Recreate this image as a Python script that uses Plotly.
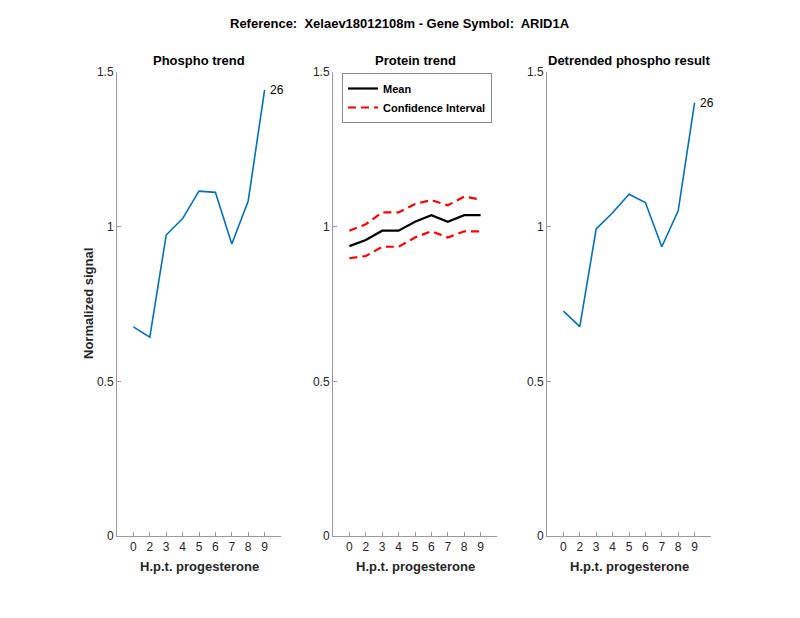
import plotly.graph_objects as go

x_pos = [1, 2, 3, 4, 5, 6, 7, 8, 9]
tick_labels = ["0", "2", "3", "4", "5", "6", "7", "8", "9"]
phospho = [0.676, 0.643, 0.973, 1.026, 1.115, 1.111, 0.944, 1.083, 1.442]
protein_mean = [0.937, 0.957, 0.987, 0.987, 1.016, 1.037, 1.016, 1.037, 1.037]
protein_upper = [0.987, 1.008, 1.046, 1.046, 1.073, 1.086, 1.069, 1.097, 1.088]
protein_lower = [0.898, 0.905, 0.935, 0.935, 0.965, 0.985, 0.965, 0.985, 0.985]
detrended = [0.727, 0.677, 0.993, 1.045, 1.105, 1.078, 0.935, 1.051, 1.401]
point_label = "26"

W, H = 800, 618
FONT = "Liberation Sans, Arial, Helvetica, sans-serif"
AX = "#9a9a9a"
BLUE = "#0072BD"

fig = go.Figure()

fig.add_trace(go.Scatter(x=x_pos, y=phospho, mode="lines", line=dict(color=BLUE, width=1.6),
                         xaxis="x", yaxis="y", showlegend=False))
fig.add_trace(go.Scatter(x=x_pos, y=protein_mean, mode="lines", line=dict(color="black", width=2.2),
                         xaxis="x2", yaxis="y2", name="<b>Mean</b>"))
fig.add_trace(go.Scatter(x=x_pos, y=protein_upper, mode="lines",
                         line=dict(color="#FF0000", width=2.2, dash="8px,5px"),
                         xaxis="x2", yaxis="y2", name="<b>Confidence Interval</b>"))
fig.add_trace(go.Scatter(x=x_pos, y=protein_lower, mode="lines",
                         line=dict(color="#FF0000", width=2.2, dash="8px,5px"),
                         xaxis="x2", yaxis="y2", showlegend=False))
fig.add_trace(go.Scatter(x=x_pos, y=detrended, mode="lines", line=dict(color=BLUE, width=1.6),
                         xaxis="x3", yaxis="y3", showlegend=False))

y0 = (H - 536) / H
y1 = (H - 72) / H
domains = [(117, 281), (333, 497), (547, 711)]

def xax(d, anchor):
    return dict(domain=[d[0] / W, d[1] / W], range=[0, 10], tickvals=x_pos, ticktext=tick_labels,
                showline=True, linecolor=AX, linewidth=1, ticks="inside", ticklen=4, tickcolor=AX,
                showgrid=False, zeroline=False, anchor=anchor, fixedrange=True, automargin=False,
                tickfont=dict(family=FONT, size=12, color="#262626"))

def yax(anchor):
    return dict(domain=[y0, y1], range=[0, 1.5], tickvals=[0, 0.5, 1, 1.5],
                ticktext=["0", "0.5", "1", "1.5"], showline=True, linecolor=AX, linewidth=1,
                ticks="inside", ticklen=4, tickcolor=AX, showgrid=False, zeroline=False,
                anchor=anchor, automargin=False,
                tickfont=dict(family=FONT, size=12, color="#262626"))

def ann(text, x, y, size=13, color="black", **kw):
    d = dict(text=text, x=x, y=y, xref="paper", yref="paper", showarrow=False,
             xanchor="center", yanchor="middle", font=dict(family=FONT, size=size, color=color))
    d.update(kw)
    return d

annotations = []
titles = ["Phospho trend", "Protein trend", "Detrended phospho result"]
for i, (d, t) in enumerate(zip(domains, titles)):
    cx = (d[0] + d[1]) / 2 / W
    annotations.append(ann("<b>%s</b>" % t, cx, (H - 61) / H))
    annotations.append(ann("<b>H.p.t. progesterone</b>", cx, (H - 566) / H, color="#262626"))

annotations.append(ann("<b>Normalized signal</b>", 88 / W, (H - 304) / H, color="#262626",
                       textangle=-90))
annotations.append(ann("<b>Reference:  Xelaev18012108m - Gene Symbol:  ARID1A</b>",
                       0.5, (H - 24) / H))
annotations.append(dict(text=point_label, x=x_pos[-1], y=phospho[-1], xref="x", yref="y",
                        xanchor="left", yanchor="middle", xshift=3, showarrow=False,
                        font=dict(family=FONT, size=12, color="black")))
annotations.append(dict(text=point_label, x=x_pos[-1], y=detrended[-1], xref="x3", yref="y3",
                        xanchor="left", yanchor="middle", xshift=3, showarrow=False,
                        font=dict(family=FONT, size=12, color="black")))

fig.update_layout(
    template="none",
    width=W, height=H, margin=dict(l=0, r=0, t=0, b=0, pad=0), autosize=False,
    paper_bgcolor="white", plot_bgcolor="white",
    xaxis=xax(domains[0], "y"), yaxis=yax("x"),
    xaxis2=xax(domains[1], "y2"), yaxis2=yax("x2"),
    xaxis3=xax(domains[2], "y3"), yaxis3=yax("x3"),
    annotations=annotations,
    legend=dict(x=342 / W, y=(H - 73) / H, xanchor="left", yanchor="top",
                bgcolor="white", bordercolor="#8a8a8a", borderwidth=1,
                font=dict(family=FONT, size=11, color="black"), tracegroupgap=0,
                itemwidth=30),
    showlegend=True,
)

post = (
    "document.documentElement.style.margin='0';"
    "document.documentElement.style.padding='0';"
    "document.body.style.margin='0';document.body.style.padding='0';"
    "document.body.style.overflow='hidden';"
    "var gd=document.getElementById('{plot_id}');"
    "gd.style.position='fixed';gd.style.left='0px';gd.style.top='0px';"
)

fig.write_html("out.html", config={"responsive": False, "displayModeBar": False},
               post_script=post)
